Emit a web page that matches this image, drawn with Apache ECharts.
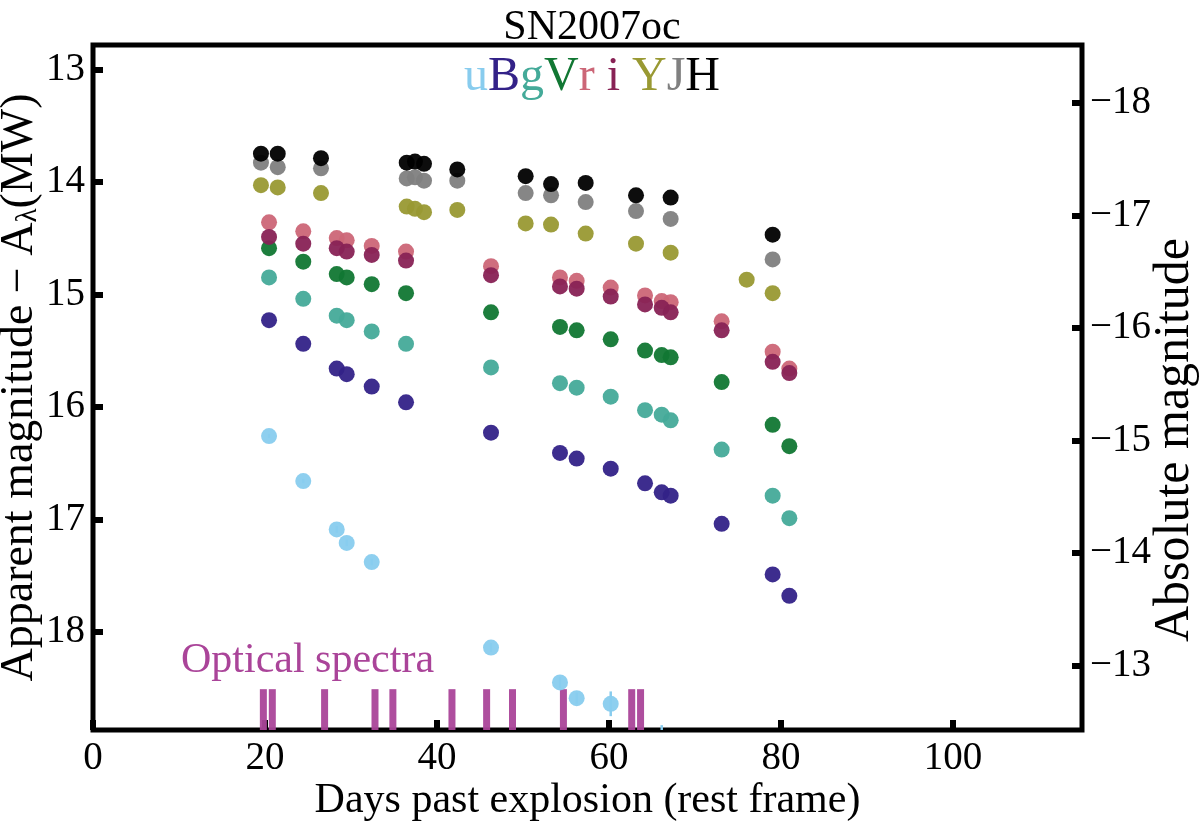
<!DOCTYPE html>
<html>
<head>
<meta charset="utf-8">
<script src="https://cdn.jsdelivr.net/npm/echarts@6/dist/echarts.min.js"></script>
<style>
  html, body { margin: 0; padding: 0; background: #fff; }
  #chart { width: 1200px; height: 825px; }
</style>
</head>
<body>
<div id="chart"></div>
<script>
// epochs (days past explosion, rest frame)
const opticalDays = [20.47, 24.45, 28.34, 29.50, 32.41, 36.40, 46.28, 54.30, 56.24, 60.20, 64.19, 66.13, 67.17, 73.10, 79.03, 80.97];
const uDays = [20.47, 24.45, 28.34, 29.50, 32.41, 46.28, 54.30, 56.24, 60.20, 66.13];
const nirDays = [19.53, 21.48, 26.51, 36.48, 37.44, 38.49, 42.36, 50.31, 53.26, 57.29, 63.14, 67.17, 79.03];
const yDays = [19.53, 21.48, 26.51, 36.48, 37.44, 38.49, 42.36, 50.31, 53.26, 57.29, 63.14, 67.17, 76.01, 79.03];

// apparent magnitudes per band
const uMag = [16.26, 16.66, 17.09, 17.21, 17.38, 18.14, 18.45, 18.59, 18.64, 19.00];
const uErr = [0.02, 0.02, 0.03, 0.03, 0.03, 0.04, 0.05, 0.05, 0.11, 0.17];
const bMag = [15.23, 15.44, 15.66, 15.71, 15.82, 15.96, 16.23, 16.41, 16.46, 16.55, 16.68, 16.76, 16.79, 17.04, 17.49, 17.68];
const gMag = [14.85, 15.04, 15.19, 15.23, 15.33, 15.44, 15.65, 15.79, 15.83, 15.91, 16.03, 16.07, 16.12, 16.38, 16.79, 16.99];
const vMag = [14.59, 14.71, 14.82, 14.85, 14.91, 14.99, 15.16, 15.29, 15.32, 15.40, 15.50, 15.54, 15.56, 15.78, 16.16, 16.35];
const rMag = [14.36, 14.44, 14.50, 14.52, 14.57, 14.62, 14.75, 14.85, 14.88, 14.94, 15.01, 15.06, 15.07, 15.24, 15.51, 15.66];
const iMag = [14.49, 14.55, 14.59, 14.62, 14.65, 14.70, 14.83, 14.93, 14.95, 15.02, 15.09, 15.12, 15.16, 15.32, 15.60, 15.70];
const yMag = [14.03, 14.05, 14.10, 14.22, 14.24, 14.27, 14.25, 14.37, 14.38, 14.46, 14.55, 14.63, 14.87, 14.99];
const jMag = [13.83, 13.87, 13.88, 13.97, 13.96, 13.99, 13.99, 14.10, 14.12, 14.18, 14.26, 14.33, 14.69];
const hMag = [13.75, 13.75, 13.79, 13.83, 13.82, 13.84, 13.89, 13.95, 14.02, 14.01, 14.12, 14.14, 14.47];

// epochs of optical spectra
const spectraDays = [19.81, 20.85, 26.93, 32.79, 34.87, 41.74, 45.77, 48.78, 54.70, 62.64, 63.67];

// axis ticks
const xTicks = [0, 20, 40, 60, 80, 100];
const appTicks = [13, 14, 15, 16, 17, 18];
const absTicks = [-18, -17, -16, -15, -14, -13];

const MU = 31.30;          // distance modulus linking the two y axes
const X_MAX = 115;
const Y_TOP = 12.784, Y_BOT = 18.873;
const SPEC_TOP = 18.51;
const FONT = '"Liberation Serif", "DejaVu Serif", serif';

const bands = [
  { name: 'u', days: uDays, mag: uMag, color: '#88CCEE' },
  { name: 'B', days: opticalDays, mag: bMag, color: '#332288' },
  { name: 'g', days: opticalDays, mag: gMag, color: '#44AA99' },
  { name: 'V', days: opticalDays, mag: vMag, color: '#117733' },
  { name: 'r', days: opticalDays, mag: rMag, color: '#CC6677' },
  { name: 'i', days: opticalDays, mag: iMag, color: '#882255' },
  { name: 'Y', days: yDays, mag: yMag, color: '#999933' },
  { name: 'J', days: nirDays, mag: jMag, color: '#808080' },
  { name: 'H', days: nirDays, mag: hMag, color: '#000000' }
];

const chart = echarts.init(document.getElementById('chart'));

const series = [];

// spectra ticks along the bottom
series.push({
  type: 'custom',
  name: 'spectra',
  data: spectraDays.map(d => [d]),
  clip: true,
  renderItem: function (params, api) {
    const top = api.coord([api.value(0), SPEC_TOP]);
    const bot = api.coord([api.value(0), Y_BOT]);
    return {
      type: 'rect',
      shape: { x: top[0] - 3.5, y: top[1], width: 7, height: bot[1] - top[1] },
      style: { fill: '#AA4499', opacity: 0.95 }
    };
  },
  z: 2
});

// u-band error bars
series.push({
  type: 'custom',
  name: 'u err',
  data: uDays.map((d, k) => [d, uMag[k], uErr[k]]),
  clip: true,
  renderItem: function (params, api) {
    const a = api.coord([api.value(0), api.value(1) - api.value(2)]);
    const b = api.coord([api.value(0), api.value(1) + api.value(2)]);
    return {
      type: 'line',
      shape: { x1: a[0], y1: a[1], x2: b[0], y2: b[1] },
      style: { stroke: '#88CCEE', lineWidth: 2.5 }
    };
  },
  z: 3
});

bands.forEach(b => {
  series.push({
    type: 'scatter',
    name: b.name,
    data: b.days.map((d, k) => [d, b.mag[k]]),
    symbolSize: 16,
    clip: true,
    itemStyle: { color: b.color, opacity: 0.95 },
    z: 4
  });
});

const legendRich = {};
bands.forEach(b => {
  legendRich[b.name] = { color: b.color, fontSize: 48, fontFamily: FONT };
});
legendRich.sp = { fontSize: 48, fontFamily: FONT };

chart.setOption({
  backgroundColor: '#fff',
  animation: false,
  title: [
    {
      text: 'SN2007oc',
      left: 587, top: 2, textAlign: 'center',
      textStyle: { fontFamily: FONT, fontSize: 42, fontWeight: 'normal', color: '#000' }
    },
    {
      text: '{u|u}{B|B}{g|g}{V|V}{r|r}{sp| }{i|i}{sp| }{Y|Y}{J|J}{H|H}',
      left: 587, top: 48, textAlign: 'center',
      textStyle: { fontFamily: FONT, fontSize: 48, fontWeight: 'normal', rich: legendRich }
    }
  ],
  grid: {
    left: 93, right: 118, top: 45, bottom: 95,
    outerBoundsMode: 'none', containLabel: false,
    show: true, borderColor: '#000', borderWidth: 5, backgroundColor: 'transparent'
  },
  xAxis: {
    type: 'value', min: 0, max: X_MAX,
    name: 'Days past explosion (rest frame)',
    nameLocation: 'middle', nameGap: 50, nameMoveOverlap: false,
    nameTextStyle: { fontFamily: FONT, fontSize: 42, color: '#000' },
    axisLine: { show: false },
    splitLine: { show: false },
    axisTick: { show: true, inside: true, length: 10, customValues: xTicks, lineStyle: { color: '#000', width: 6 } },
    axisLabel: { customValues: xTicks, fontFamily: FONT, fontSize: 39, color: '#000', margin: 9 }
  },
  yAxis: [
    {
      type: 'value', inverse: true, min: Y_TOP, max: Y_BOT, position: 'left',
      name: '{a|Apparent magnitude − A}{s|λ}{a|(MW)}',
      nameLocation: 'middle', nameGap: 50, nameRotate: 90, nameMoveOverlap: false,
      nameTextStyle: {
        fontFamily: FONT, fontSize: 46, color: '#000',
        rich: {
          a: { fontFamily: FONT, fontSize: 46, color: '#000', lineHeight: 50, verticalAlign: 'bottom' },
          s: { fontFamily: FONT, fontSize: 29, color: '#000', lineHeight: 50, verticalAlign: 'bottom' }
        }
      },
      axisLine: { show: false },
      splitLine: { show: false },
      axisTick: { show: true, inside: true, length: 10, customValues: appTicks, lineStyle: { color: '#000', width: 6 } },
      axisLabel: { customValues: appTicks, fontFamily: FONT, fontSize: 39, color: '#000', margin: 8 }
    },
    {
      type: 'value', inverse: true, min: Y_TOP - MU, max: Y_BOT - MU, position: 'right',
      axisLine: { show: false },
      splitLine: { show: false },
      axisTick: { show: true, inside: true, length: 10, customValues: absTicks, lineStyle: { color: '#000', width: 6 } },
      axisLabel: {
        customValues: absTicks, fontFamily: FONT, fontSize: 39, color: '#000', margin: 8,
        formatter: v => '−' + Math.abs(Math.round(v))
      }
    }
  ],
  graphic: [
    {
      type: 'text', left: 181, top: 640,
      style: { text: 'Optical spectra', fill: '#AA4499', font: '42px ' + FONT }
    },
    {
      type: 'text', x: 1175, y: 440, rotation: Math.PI / 2,
      style: {
        text: 'Absolute magnitude', fill: '#000', font: '50px ' + FONT,
        textAlign: 'center', textVerticalAlign: 'middle'
      }
    }
  ],
  series: series
});
</script>
</body>
</html>
